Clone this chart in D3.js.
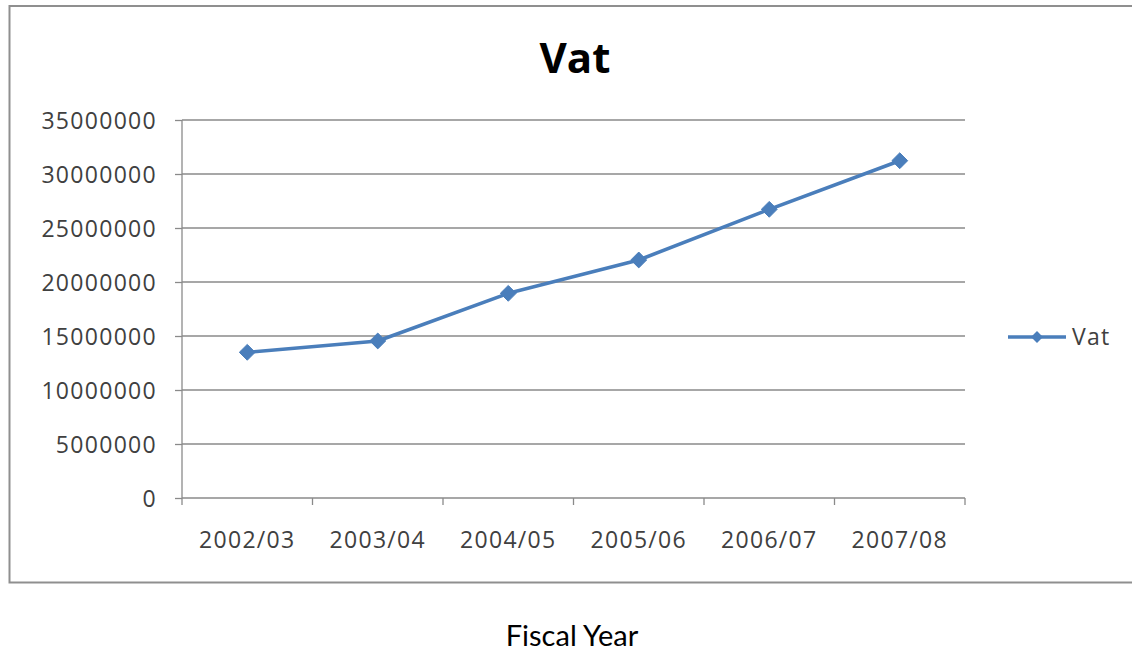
<!DOCTYPE html>
<html>
<head>
<meta charset="utf-8">
<script src="https://cdn.jsdelivr.net/npm/d3@7"></script>
<style>
  html, body { margin: 0; padding: 0; background: #ffffff; }
  svg { display: block; }
  .tick text { font-family: "Open Sans", sans-serif; }
</style>
</head>
<body>
<svg id="chart" width="1132" height="654"></svg>
<script>
// Fiscal years and VAT collected per year
const categories = ["2002/03", "2003/04", "2004/05", "2005/06", "2006/07", "2007/08"];
const vatValues = [13490000, 14540000, 18950000, 22040000, 26730000, 31230000];
const yTicks = [0, 5000000, 10000000, 15000000, 20000000, 25000000, 30000000, 35000000];
const seriesName = "Vat";

const svg = d3.select("#chart");
const W = 1132, H = 654;
const plot = { left: 182, right: 965, top: 120, bottom: 498 };
const blue = "#4a7ebb";
const grid = "#8a8a8a";
const textCol = "#404040";

// Chart frame
svg.append("path")
  .attr("d", `M${W + 2},6 H9.5 V582.5 H${W + 2}`)
  .attr("fill", "#ffffff")
  .attr("stroke", "#8f8f8f")
  .attr("stroke-width", 2);

const x = d3.scaleBand().domain(categories).range([plot.left, plot.right]);
const y = d3.scaleLinear().domain([0, 35000000]).range([plot.bottom, plot.top]);

// Horizontal gridlines
svg.append("g")
  .selectAll("line")
  .data(yTicks)
  .join("line")
  .attr("x1", plot.left)
  .attr("x2", plot.right)
  .attr("y1", d => y(d))
  .attr("y2", d => y(d))
  .attr("stroke", grid)
  .attr("stroke-width", 1.3);

// Y axis
const yAxis = svg.append("g")
  .attr("transform", `translate(${plot.left},0)`)
  .call(d3.axisLeft(y).tickValues(yTicks).tickFormat(d3.format("d")).tickSize(7).tickPadding(18));
yAxis.select(".domain").attr("stroke", grid).attr("stroke-width", 1.3).attr("d", `M0,${plot.top}V${plot.bottom + 7}`);
yAxis.selectAll(".tick line").attr("stroke", grid).attr("stroke-width", 1.3);
yAxis.selectAll(".tick text")
  .attr("fill", textCol)
  .attr("font-size", 23)
  .attr("letter-spacing", "1.3px")
  .attr("dy", "0.36em");

// X axis: labels centred in each category, ticks on category boundaries
const xAxis = svg.append("g")
  .attr("transform", `translate(0,${plot.bottom})`)
  .call(d3.axisBottom(x).tickSize(0).tickPadding(0));
xAxis.select(".domain").remove();
xAxis.selectAll(".tick text")
  .attr("fill", textCol)
  .attr("font-size", 23)
  .attr("letter-spacing", "1.3px")
  .attr("dy", null)
  .attr("y", 50);

const boundaries = categories.map(c => x(c)).concat([x(categories[categories.length - 1]) + x.bandwidth()]);
svg.append("g")
  .selectAll("line")
  .data(boundaries.slice(1))
  .join("line")
  .attr("x1", d => d).attr("x2", d => d)
  .attr("y1", plot.bottom).attr("y2", plot.bottom + 7)
  .attr("stroke", grid)
  .attr("stroke-width", 1.3);

// Series line
const line = d3.line()
  .x((d, i) => x(categories[i]) + x.bandwidth() / 2)
  .y(d => y(d));

svg.append("path")
  .datum(vatValues)
  .attr("d", line)
  .attr("fill", "none")
  .attr("stroke", blue)
  .attr("stroke-width", 3.6)
  .attr("stroke-linejoin", "round");

// Diamond markers
const diamond = d3.symbol().type(d3.symbolDiamond2).size(160);
svg.append("g")
  .selectAll("path")
  .data(vatValues)
  .join("path")
  .attr("transform", (d, i) => `translate(${x(categories[i]) + x.bandwidth() / 2},${y(d)})`)
  .attr("d", diamond)
  .attr("fill", blue)
  .attr("stroke", blue)
  .attr("stroke-width", 1);

// Title
svg.append("text")
  .attr("x", 575)
  .attr("y", 73)
  .attr("text-anchor", "middle")
  .attr("font-family", "Open Sans, sans-serif")
  .attr("font-weight", "bold")
  .attr("font-size", 42)
  .attr("fill", "#000000")
  .text(seriesName);

// Legend
const legend = svg.append("g").attr("transform", "translate(1008,337)");
legend.append("line")
  .attr("x1", 0).attr("x2", 58)
  .attr("y1", 0).attr("y2", 0)
  .attr("stroke", blue)
  .attr("stroke-width", 3.6);
legend.append("path")
  .attr("transform", "translate(29,0)")
  .attr("d", d3.symbol().type(d3.symbolDiamond2).size(90))
  .attr("fill", blue);
legend.append("text")
  .attr("x", 64)
  .attr("y", 0)
  .attr("dy", "0.36em")
  .attr("font-family", "Open Sans, sans-serif")
  .attr("font-size", 23)
  .attr("letter-spacing", "1.3px")
  .attr("fill", textCol)
  .text(seriesName);

// Axis title below the frame
svg.append("text")
  .attr("x", 572)
  .attr("y", 646)
  .attr("text-anchor", "middle")
  .attr("font-family", "Lato, sans-serif")
  .attr("font-size", 29)
  .attr("fill", "#000000")
  .text("Fiscal Year");
</script>
</body>
</html>
